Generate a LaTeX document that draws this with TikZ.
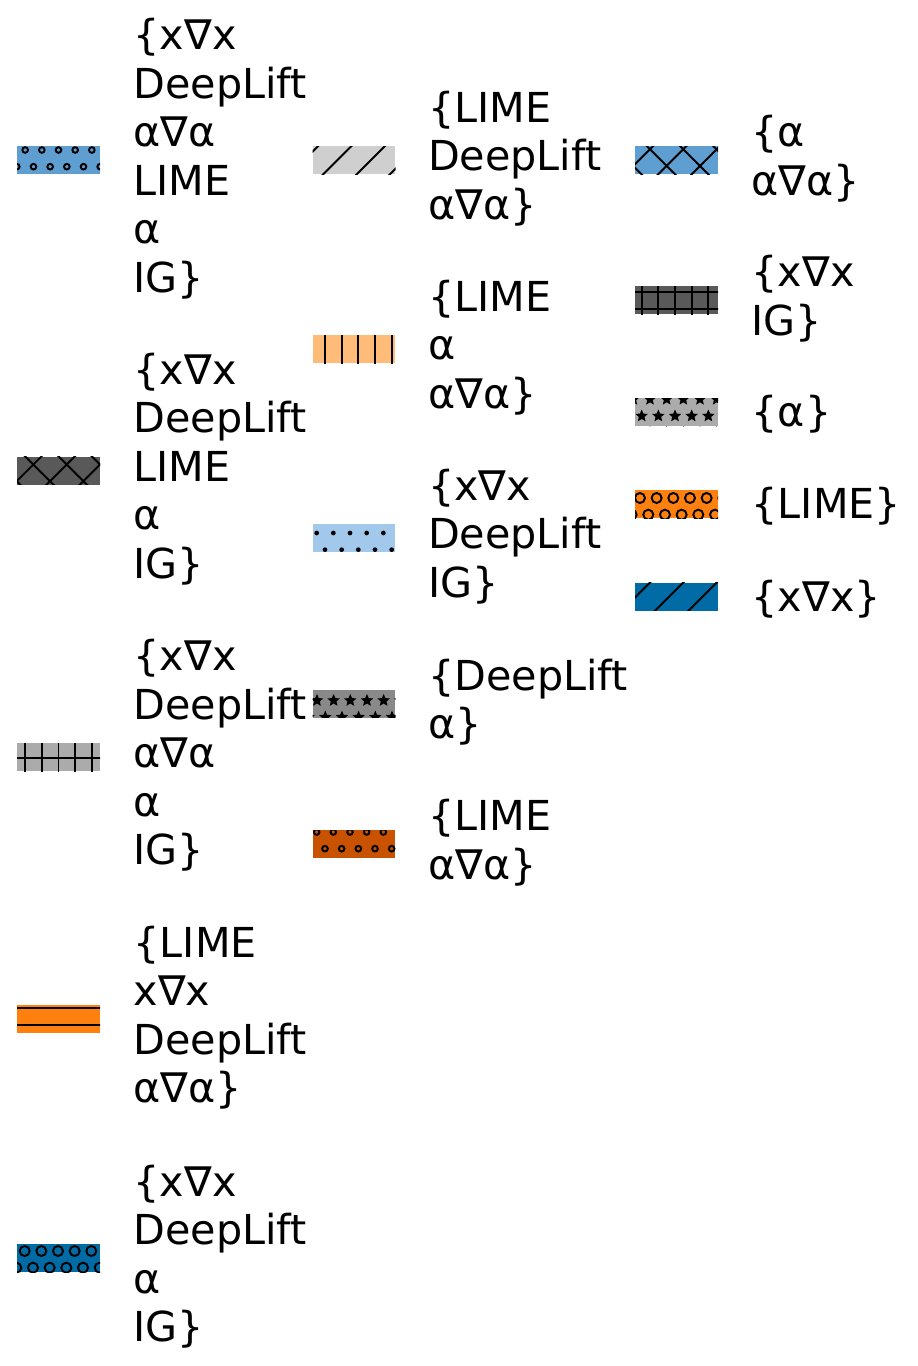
\documentclass[tikz,border=0pt]{standalone}
\usepackage{fontspec}
\setmainfont{DejaVu Sans}
\usetikzlibrary{positioning}

\definecolor{cbBlue}{HTML}{006BA4}
\definecolor{cbOrange}{HTML}{FF800E}
\definecolor{cbGray}{HTML}{ABABAB}
\definecolor{cbDark}{HTML}{595959}
\definecolor{cbSky}{HTML}{5F9ED1}
\definecolor{cbRust}{HTML}{C85200}
\definecolor{cbMid}{HTML}{898989}
\definecolor{cbPale}{HTML}{A2C8EC}
\definecolor{cbPeach}{HTML}{FFBC79}
\definecolor{cbLight}{HTML}{CFCFCF}

\tikzset{
  patchbox/.style={inner sep=0pt, minimum width=1.66cm, minimum height=0.56cm},
  hatchline/.style={black, line width=1.1pt},
  legtext/.style={inner sep=0pt, align=left, anchor=west, yshift=0.03cm,
    font=\fontsize{23.5}{27.6}\selectfont},
  oneline/.style={yshift=-0.08cm}
}

% hatch patterns, all in patch-local pixels
\newcommand\hatchdiag[2]{\foreach \k in {-3,...,3}
  \draw[hatchline] ({#1+33.33*\k-20},{20*#2}) -- ({#1+33.33*\k+20},{-20*#2});}
\newcommand\hatchvert[1]{\foreach \k in {-3,...,3}
  \draw[hatchline] ({#1+16.67*\k},-20) -- ++(0,40);}
\newcommand\hatchhorz[1]{\foreach \k in {-2,...,2}
  \draw[hatchline] (-50,{#1+16.67*\k}) -- ++(100,0);}
\newcommand\hatchrings[3]{\foreach \j in {-1,0,1} \foreach \k in {-3,...,3} {
  \draw[hatchline] ({#1+16.67*\k},{#2+33.33*\j}) circle[radius=#3];
  \draw[hatchline] ({#1+8.33+16.67*\k},{#2+16.67+33.33*\j}) circle[radius=#3];}}
\newcommand\hatchdots[2]{\foreach \j in {-1,0,1} \foreach \k in {-3,...,3} {
  \fill[black] ({#1+16.67*\k},{#2+33.33*\j}) circle[radius=1.35pt];
  \fill[black] ({#1+8.33+16.67*\k},{#2+16.67+33.33*\j}) circle[radius=1.35pt];}}
\newcommand\starat[2]{\fill[black] ({#1},{#2}) +(270:6.5) -- +(306:3) -- +(342:6.5)
  -- +(18:3) -- +(54:6.5) -- +(90:3) -- +(126:6.5) -- +(162:3) -- +(198:6.5)
  -- +(234:3) -- cycle;}
\newcommand\hatchstars[2]{\foreach \j in {-1,0,1} \foreach \k in {-3,...,3} {
  \starat{#1+16.67*\k}{#2+33.33*\j}
  \starat{#1+8.33+16.67*\k}{#2+16.67+33.33*\j}}}

% patch: name, x, y, colour, hatch
\newcommand\legpatch[5]{%
  \begin{scope}[shift={(#2,#3)}]
    \node[patchbox, fill=#4] (#1) at (0,0) {};
    \clip (-41.5,-14) rectangle (41.5,14);
    #5
  \end{scope}}

\begin{document}
\begin{tikzpicture}[x=0.02cm, y=-0.02cm]
  \useasboundingbox (0,0) rectangle (918,1366);

  % first column
  \legpatch{p11}{58.5}{160}{cbSky}{\hatchrings{0}{-10}{1.6pt}}
  \legpatch{p12}{58.5}{470.5}{cbDark}{\hatchdiag{2.2}{1}\hatchdiag{14.2}{-1}}
  \legpatch{p13}{58.5}{757}{cbGray}{\hatchvert{0}\hatchhorz{1}}
  \legpatch{p14}{58.5}{1019}{cbOrange}{\hatchhorz{-11}}
  \legpatch{p15}{58.5}{1258}{cbBlue}{\hatchrings{-0.5}{-7}{2.85pt}}
  \node[legtext, right=0.66cm of p11] (t11) {\{x∇x\\DeepLift\\α∇α\\LIME\\α\\IG\}};
  \node[legtext, right=0.66cm of p12] (t12) {\{x∇x\\DeepLift\\LIME\\α\\IG\}};
  \node[legtext, right=0.66cm of p13] (t13) {\{x∇x\\DeepLift\\α∇α\\α\\IG\}};
  \node[legtext, right=0.66cm of p14] (t14) {\{LIME\\x∇x\\DeepLift\\α∇α\}};
  \node[legtext, right=0.66cm of p15] (t15) {\{x∇x\\DeepLift\\α\\IG\}};

  % second column
  \legpatch{p21}{354}{160}{cbLight}{\hatchdiag{-16.4}{1}}
  \legpatch{p22}{354}{349}{cbPeach}{\hatchvert{4.3}}
  \legpatch{p23}{354}{538}{cbPale}{\hatchdots{-4}{-5}}
  \legpatch{p24}{354}{703.5}{cbMid}{\hatchstars{-3.7}{-3}}
  \legpatch{p25}{354}{844}{cbRust}{\hatchrings{-4}{-12}{1.6pt}}
  \node[legtext, right=0.64cm of p21] (t21) {\{LIME\\DeepLift\\α∇α\}};
  \node[legtext, right=0.64cm of p22] (t22) {\{LIME\\α\\α∇α\}};
  \node[legtext, right=0.64cm of p23] (t23) {\{x∇x\\DeepLift\\IG\}};
  \node[legtext, right=0.64cm of p24] (t24) {\{DeepLift\\α\}};
  \node[legtext, right=0.64cm of p25] (t25) {\{LIME\\α∇α\}};

  % third column
  \legpatch{p31}{676.5}{160}{cbSky}{\hatchdiag{-3.9}{1}\hatchdiag{17.5}{-1}}
  \legpatch{p32}{676.5}{300}{cbDark}{\hatchvert{-1.5}\hatchhorz{-8}}
  \legpatch{p33}{676.5}{412}{cbGray}{\hatchstars{-1.5}{4}}
  \legpatch{p34}{676.5}{504}{cbOrange}{\hatchrings{-3.2}{-6}{2.85pt}}
  \legpatch{p35}{676.5}{596.5}{cbBlue}{\hatchdiag{-7.2}{1}}
  \node[legtext, right=0.66cm of p31] (t31) {\{α\\α∇α\}};
  \node[legtext, right=0.66cm of p32] (t32) {\{x∇x\\IG\}};
  \node[legtext, oneline, right=0.66cm of p33] (t33) {\{α\}};
  \node[legtext, oneline, right=0.66cm of p34] (t34) {\{LIME\}};
  \node[legtext, oneline, right=0.66cm of p35] (t35) {\{x∇x\}};
\end{tikzpicture}
\end{document}
